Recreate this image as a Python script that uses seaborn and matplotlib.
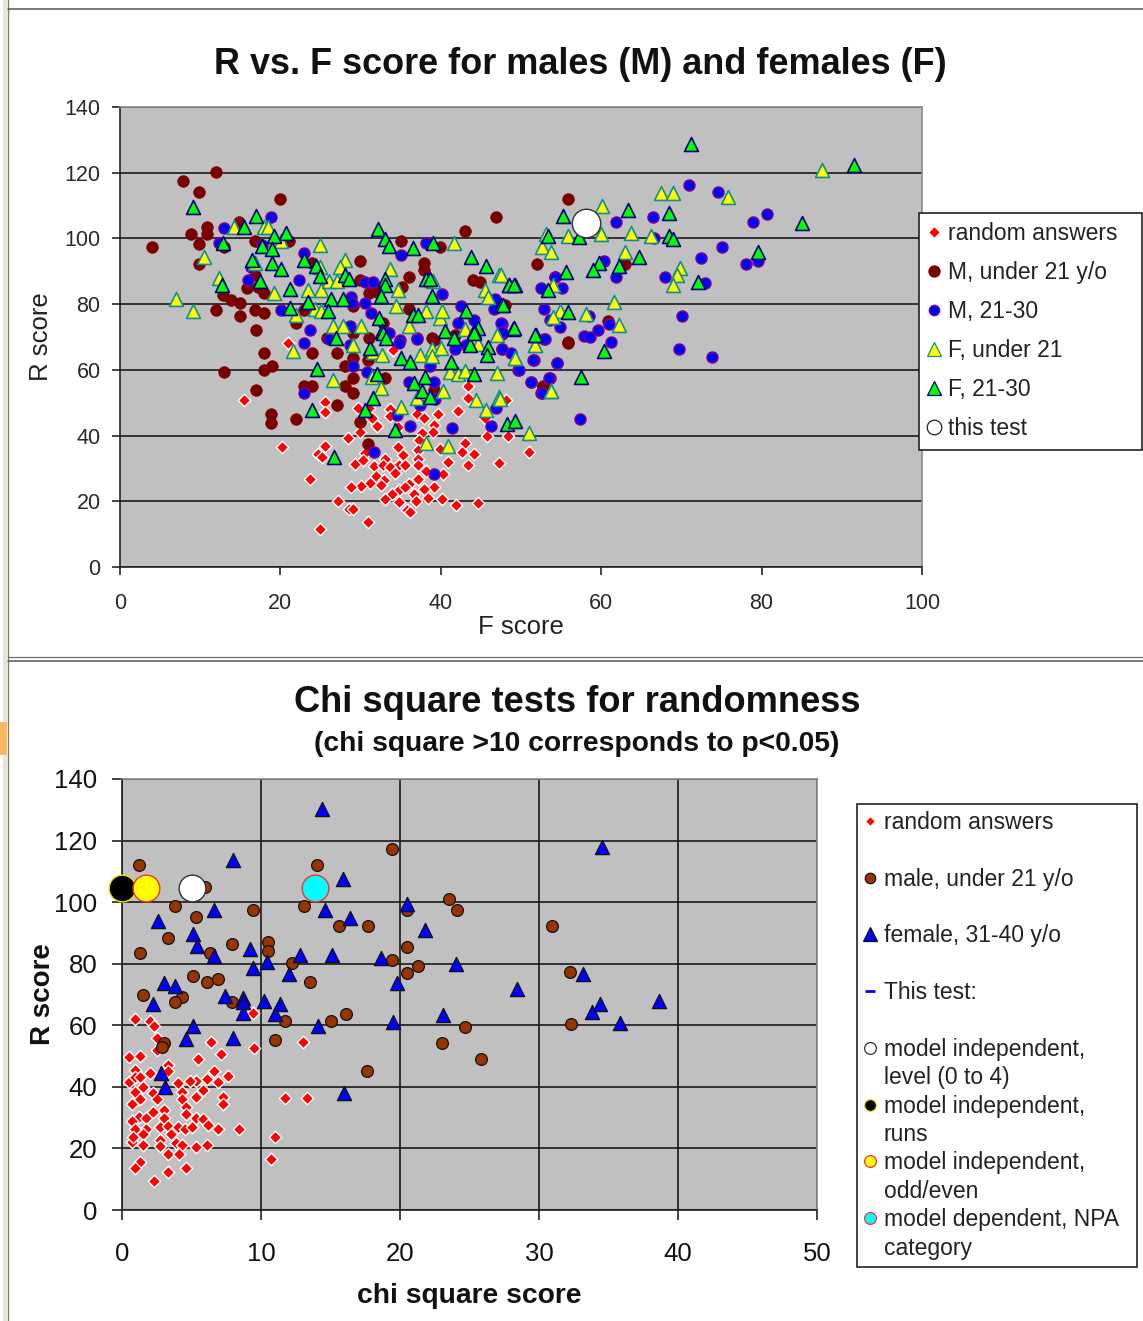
import matplotlib
matplotlib.use("Agg")
import matplotlib.pyplot as plt
import seaborn as sns
from matplotlib.lines import Line2D
from matplotlib.patches import Rectangle

W, H = 1143, 1321

# ---- top chart data (F score, R score) ----
rnd_f = [21, 15.5, 20.2, 25.5, 24.7, 25.2, 23.7, 27.2, 28.5, 29, 30.9, 24.9, 25.6, 25.6, 29.7, 31, 31.4, 32.1, 29.9, 28.4,
         33.7, 33.7, 34.7, 37, 37.9, 39.7, 42.2, 39.1, 39, 37.7, 37.3, 37.2, 37.2, 37.2, 39.9, 43, 42.6, 44.2, 40.9, 43.4,
         47.3, 51, 45.7, 48.4, 45.5, 48.1, 43.4, 43.4, 34, 30.5, 29.3, 30.3, 31.7, 33.1, 34.7, 35.3, 34.8, 35.5, 32.8, 33.7,
         34.3, 31.9, 31.2, 32.9, 30.1, 28.8, 32.6, 36, 37.2, 38.2, 40.3, 39.2, 37.9, 36.6, 34.8, 35.5, 33.9, 33, 34.8, 36.9,
         38.4, 40.2, 41.9, 44.6, 35.8, 36.2]
rnd_r = [68.2, 50.7, 36.4, 36.9, 34.4, 33.4, 26.9, 20.2, 17.8, 17.8, 13.6, 11.7, 50.3, 47.3, 48.3, 48.3, 45.4, 43, 41.2, 39.3,
         48, 45.9, 42.7, 46.5, 45.4, 46.5, 47.5, 43.2, 41.2, 40.7, 38.8, 35.6, 33, 31, 36, 37.6, 34.9, 34.4, 32, 31.1,
         31.6, 34.9, 40, 40, 45.5, 50.7, 55, 51.5, 66, 34.8, 31.5, 32.5, 30.7, 33, 36.4, 34, 31.1, 31.1, 31, 30.5,
         28.7, 27.8, 25.7, 26.5, 24.6, 24.4, 25, 25.4, 26.9, 29.2, 28.2, 24.4, 23.6, 22.2, 23.4, 24.2, 22.2, 20.6, 19.7, 20.1,
         21.1, 20.7, 18.9, 19.4, 17.3, 16.8]

m_young_f = [12, 7.9, 9.85, 20, 46.9, 10.8, 14.9, 8.9, 10.9, 4, 9.85, 16.8, 43, 35, 39.9, 21.1, 13, 9.85, 29.9, 37.9,
             37.9, 36, 44, 44.9, 16.8, 12, 15, 16.8, 17.9, 16.9, 12.9, 13.9, 15, 15.8, 17.9, 17.2, 21.9, 22.9, 23.9, 29.9,
             31, 32, 35.1, 29.1, 32.8, 36, 47.8, 31, 29, 38.9, 41.8, 13, 17.9, 17.9, 18.9, 16.9, 18.8, 18.8, 21.9, 23.9,
             27, 22.9, 23.9, 27, 29.9, 30.9, 29, 28.1, 29, 28.1, 29, 30.9, 33, 25.8, 39.1, 39.1, 55.8, 52.8, 55.9,
             52, 63, 48, 60.9, 55.9, 52.8, 54.3]
m_young_r = [120.2, 117.4, 114, 112.1, 106.4, 103.4, 105.1, 101.2, 101.2, 97.4, 98.3, 99.3, 102.2, 99.3, 97.4, 99.3, 97.4, 92.1, 93.2, 92.6,
             90.4, 88.4, 87.4, 86.6, 88.9, 78.3, 76.4, 78.3, 77.4, 72.2, 82.8, 81.3, 80.3, 84.8, 83.3, 85.3, 74.2, 78.3, 92.4, 87.4,
             83.3, 83.8, 85.3, 79.3, 74.2, 78.4, 79.3, 69.6, 71.1, 69.6, 70.6, 59.2, 65, 60.1, 61.2, 53.8, 46.7, 43.7, 45, 65,
             65, 55, 55, 49.3, 44.2, 37.3, 57.4, 55, 53.1, 61.2, 63.5, 63, 57.4, 69.6, 69, 53.8, 68.3, 55, 112.1,
             92.1, 92.1, 79.7, 74.8, 68.4, 54.9, 88.3]

m_mid_f = [70.9, 74.6, 80.7, 78.9, 61.9, 66.4, 66.6, 75, 72.5, 60.4, 78.1, 79.5, 61.9, 68, 73, 54.3, 52.5, 55.1, 52.9, 58.5,
           53.6, 54.9, 61, 59.6, 57.8, 58.6, 52.9, 61.2, 70.1, 69.7, 73.8, 47.6, 47.6, 47.6, 48.8, 51.6, 54.5, 49.6, 53.6, 51.2,
           52.5, 57.3, 13, 18.8, 12.3, 17.7, 22.9, 35, 38.2, 16.3, 15.9, 22.3, 30.5, 31.5, 28.8, 28.9, 30.5, 20.1, 31.3, 40.2,
           42.5, 46.8, 46.6, 42.2, 44.1, 47.5, 23.7, 28.7, 33.5, 47.6, 34.9, 37, 22.9, 26, 28.7, 34.8, 37, 41.8, 43.2, 47.6,
           53, 29, 30.8, 38.7, 49.7, 51.5, 54.5, 36, 39.2, 51.2, 53.5, 52.6, 22.9, 39.3, 37.4, 46.9, 34.5, 36.2, 41.4, 46.3,
           31.7, 39.1]
m_mid_r = [116.4, 114, 107.3, 105, 105, 106.4, 100, 97.4, 94, 93.1, 92.1, 93.1, 88.3, 88.3, 86.3, 88.3, 85, 85, 78.4, 76.4,
           75.1, 73.1, 73.9, 72.1, 70.3, 70, 69.3, 68.4, 76.4, 66.4, 64, 74.1, 71, 66.4, 65.2, 63, 62.2, 60.1, 57.4, 56.4,
           53, 45, 103.1, 106.4, 98.5, 98, 95.5, 95, 98.5, 91.4, 87.4, 87.4, 86.6, 86.6, 82.3, 80.3, 80.3, 78.3, 77.4, 83.1,
           79.3, 81.5, 78.4, 74.2, 75.2, 74.2, 72.2, 73.2, 71.1, 71.6, 69, 69.8, 68.2, 69.3, 67.5, 68.2, 69.3, 66.2, 67.5, 66.5,
           69.3, 61.2, 59.4, 61.2, 60.1, 63, 62.2, 56.4, 56.4, 56.4, 57.4, 53.1, 53.1, 51.1, 49.3, 48.3, 46.2, 43, 42.2, 43,
           35, 28.3]

f_young_f = [7, 9.1, 10.5, 14.2, 17.9, 18.5, 12.3, 16.8, 20.1, 24.9, 24.9, 28.1, 27.4, 19.2, 21.9, 23.5, 25.1, 26.1, 27.1, 24.3,
             25, 26.6, 27.8, 30, 33.7, 34.7, 34.4, 39, 38.2, 39.9, 40.1, 36, 41.7, 47.3, 45.5, 45.9, 43, 47, 21.6, 29,
             26.5, 31.6, 32.7, 31.4, 32.5, 35, 37, 37.4, 38.9, 38.9, 40, 44.7, 49.3, 51.7, 41.1, 42.1, 43, 47, 40.3, 44.4,
             47.2, 45.6, 53.7, 38.2, 40.9, 51, 87.5, 75.8, 67.4, 69, 60.1, 53.1, 55.9, 60, 63.7, 66.2, 52.6, 53.8, 63, 69.8,
             69.4, 69, 54, 47.5, 61.6, 54.9, 54, 58.1, 62.2, 51.7, 49.3, 53.8, 47.4]
f_young_r = [81.6, 77.8, 94.5, 103.6, 103.6, 103.6, 87.9, 92.4, 99.3, 98, 91.4, 93.5, 91.4, 83.5, 76.7, 84.3, 84.3, 86.9, 86.9, 78.4,
             77.8, 73.4, 73.4, 73.4, 90.6, 84.3, 79.5, 86.9, 77.8, 75.7, 77.8, 73.2, 98.5, 88.9, 84.3, 82.3, 72.5, 70.6, 65.7, 67.7,
             56.9, 65.5, 64.5, 57.9, 54.4, 48.8, 51.3, 64.5, 66.5, 64.2, 66.8, 67.8, 63.5, 67.5, 59.4, 58.6, 59.7, 58.9, 53.6, 50.8,
             51.8, 47.8, 53.5, 37.6, 36.9, 40.7, 120.8, 112.7, 113.7, 113.7, 109.8, 101.5, 100.7, 101.5, 101.7, 100.7, 97.5, 96, 96, 90.9,
             88.8, 85.8, 85.8, 88.8, 80.7, 78, 76, 77, 73.6, 67.5, 63.5, 53.5, 51]

f_mid_f = [9.1, 16.9, 15.4, 12.9, 19.2, 20.7, 17.7, 18.9, 16.4, 19, 20.1, 12.7, 17.5, 21.2, 23, 24.5, 24.9, 28.1, 28.6, 23.4,
           26.3, 27.8, 21.2, 25.9, 32.2, 33.1, 33.5, 36.5, 39, 43.8, 45.6, 33.1, 33.1, 32.5, 38.2, 38.7, 38.9, 48.5, 49.2, 36.5,
           37.1, 43.2, 47.5, 32.3, 32.7, 40.5, 44.6, 44.1, 49, 26.9, 31.2, 32.8, 33.2, 41.7, 43.6, 44.1, 45.9, 45.7, 35, 36.1,
           41.3, 24.6, 32.1, 38, 44.1, 36.6, 37.7, 38.6, 31.6, 30.5, 24, 34.3, 48.3, 49.2, 26.7, 51.9, 71.2, 91.5, 85, 55.2,
           63.4, 68.5, 53.4, 57.2, 68.4, 69, 79.5, 64.7, 59.7, 59, 62.2, 55.6, 72.1, 53.4, 48.5, 49.1, 55.9, 49.1, 51.8, 60.4,
           57.5, 47.7]
f_mid_r = [109.7, 106.8, 103.6, 98.7, 100.6, 101.8, 97.8, 96.8, 93.5, 92.6, 90.6, 85.9, 86.9, 84.5, 93.5, 91.7, 88.7, 88.9, 87.7, 80.6,
           81.6, 81.6, 78.8, 77.8, 102.8, 99.8, 97.7, 97, 98.7, 94.5, 91.6, 87.7, 85.9, 82.5, 87.7, 87.7, 82.5, 85.9, 85.9, 76.7,
           76.7, 77.8, 79.6, 75.7, 71.7, 71.7, 72.7, 71.7, 72.5, 69.6, 66.8, 71.3, 69.6, 69.6, 67.7, 71.1, 67, 64.5, 63.5, 62.5,
           62.5, 60.4, 58.6, 57.9, 58.6, 55.9, 53.6, 51.6, 51.5, 47.8, 47.8, 41.7, 43.5, 44.5, 33.4, 70.6, 128.7, 122.5, 104.6, 106.8,
           108.8, 107.8, 100.7, 100.5, 100.7, 99.7, 95.9, 94.4, 92.4, 90.4, 91.6, 89.7, 86.8, 84.3, 85.8, 85.8, 77.7, 72.6, 70.6, 65.8,
           57.7, 79.7]

this_f = [58.1]
this_r = [104.6]

# ---- bottom chart data (chi square score, R score) ----
chi_rnd_x = [0.9, 2, 2.3, 2.5, 2.5, 6.4, 9.5, 13, 9.4, 7.1, 5.5, 0.5, 1.3, 3.3, 3.3, 0.9, 2, 6.6, 7.6, 6.1, 6.9, 5.3, 4.9, 4,
             0.5, 0.9, 1.3, 1.5, 0.9, 2.2, 4.3, 5.8, 5.3, 1.3, 2.5, 4.3, 7.3, 7.3, 0.7, 2.2, 3, 4.6, 4.6, 1.2, 1.7, 3, 0.7, 5.3,
             5.8, 6.2, 0.9, 1.7, 2.7, 3.3, 4, 4.5, 5, 6.9, 8.4, 3.5, 1.5, 11, 0.7, 2.7, 1.5, 2.7, 3.9, 4.3, 5.3, 6.1, 3.3, 4.1,
             10.7, 1.3, 0.9, 3.3, 4.6, 2.3, 11.7, 13.3, 0.8]
chi_rnd_r = [61.9, 61.4, 59.8, 55.8, 52, 54.7, 52.7, 54.7, 63.9, 50.7, 49, 49.8, 50.1, 47.1, 45.1, 45.5, 44.6, 45.1, 43.5, 42.6, 41.5, 42, 42, 41.1,
             41.5, 43.1, 43.1, 39.8, 38.4, 38.1, 38.4, 39, 36.8, 35.9, 35.9, 35.9, 36.8, 34.3, 34.3, 31.9, 32.5, 33.4, 31.2, 30.3, 29.8, 29.8, 29, 30,
             29.5, 27.6, 26.3, 26.3, 26.9, 27.3, 26.9, 26.2, 26.9, 26.3, 26.3, 24.6, 24.7, 23.8, 22.2, 22.7, 21.1, 20.9, 21.9, 21.1, 20.6, 21.1, 18.2, 18.2,
             16.6, 15.7, 13.5, 12.5, 13.5, 9.4, 36.5, 36.5, 23.8]

chi_male_x = [1.2, 14, 19.4, 6, 3.8, 9.4, 13.1, 5.3, 20.5, 23.5, 15.6, 17.7, 3.3, 7.9, 10.5, 10.5, 1.3, 6.3, 20.5, 12.2, 19.4, 21.3,
              20.5, 13.5, 5.1, 6.1, 6.9, 1.5, 4.3, 3.8, 7.9, 16.1, 11.7, 15, 3, 2.9, 11, 30.9, 32.2, 32.3, 24.1, 23, 24.7, 25.8, 17.6]
chi_male_r = [112, 112, 117.1, 105, 98.8, 97.4, 98.8, 95.3, 97.4, 101, 92.2, 92.2, 88.2, 86.3, 87.2, 84.2, 83.4, 83.4, 85.3, 80.1, 81.2, 79.3,
              77.1, 74, 76, 74, 75, 70, 69.3, 67.5, 67.5, 63.6, 61.4, 61.4, 54.3, 53, 55.2, 92.2, 77.3, 60.4, 97.4, 54.2, 59.4, 49, 45.1]

chi_female_x = [14.4, 8, 15.9, 20.5, 2.6, 6.6, 14.6, 16.4, 5.1, 5.4, 6.6, 9.2, 12.8, 15.1, 18.6, 21.8, 10.4, 9.4, 12, 19.8, 3, 3.8,
                2.2, 7.4, 8.7, 8.7, 10.2, 11.4, 8.7, 11, 23.1, 19.5, 5.1, 4.6, 8, 14.1, 2.8, 3.1, 16, 34.5, 28.4, 33.2, 34.4, 33.8,
                35.8, 38.6, 24]
chi_female_r = [130.4, 113.7, 107.5, 99.4, 93.9, 97.4, 97.4, 95, 89.6, 85.8, 82.6, 84.8, 82.8, 82.8, 81.7, 91, 80.4, 78.5, 76.6, 73.6, 73.6, 72.6,
                67, 69.5, 68.8, 67.6, 68, 67, 63.9, 63.7, 63.4, 61, 59.8, 55.4, 55.8, 59.8, 44.6, 39.8, 38, 117.9, 71.8, 76.6, 66.9, 64.3,
                60.7, 67.9, 79.9]

test_level = [5, 104.5]
test_runs = [0, 104.5]
test_odd = [1.75, 104.5]
test_npa = [13.9, 104.5]

x_ticks_top = [0, 20, 40, 60, 80, 100]
x_ticks_bottom = [0, 10, 20, 30, 40, 50]
y_ticks = [0, 20, 40, 60, 80, 100, 120, 140]

labels_top = ["random answers", "M, under 21 y/o", "M, 21-30", "F, under 21", "F, 21-30", "this test"]

sns.set_theme(style="white")
plt.rcParams["font.family"] = ["Liberation Sans", "DejaVu Sans"]


def px_axes(left, top, right, bottom):
    return [left / W, 1 - bottom / H, (right - left) / W, (bottom - top) / H]


def style_axes(ax, tick_size, tick_len, color):
    ax.set_facecolor("#C0C0C0")
    ax.set_axisbelow(True)
    ax.set_ylim(0, 140)
    ax.set_yticks(y_ticks)
    ax.tick_params(axis="both", length=tick_len, width=1.1, color="#111111",
                   labelsize=tick_size, labelcolor=color, left=True, bottom=True)
    ax.spines["left"].set_color("#222222")
    ax.spines["bottom"].set_color("#222222")
    ax.spines["top"].set_color("#8a8a8a")
    ax.spines["right"].set_color("#8a8a8a")
    for s in ax.spines.values():
        s.set_linewidth(1.2)


def marker_line(marker, face, edge, size, lw=0.9):
    return Line2D([], [], linestyle="none", marker=marker, markerfacecolor=face,
                  markeredgecolor=edge, markersize=size, markeredgewidth=lw)


fig = plt.figure(figsize=(W / 100, H / 100), dpi=100, facecolor="white")

# ---- top chart ----
ax1 = fig.add_axes(px_axes(120, 107, 922, 567))
style_axes(ax1, 15.5, 5.5, "#2a2a2a")
ax1.tick_params(axis="x", pad=13)
ax1.tick_params(axis="y", pad=8.5)
ax1.set_xlim(0, 100)
ax1.set_xticks(x_ticks_top)
ax1.yaxis.grid(True, color="#1a1a1a", linewidth=1.2)
ax1.xaxis.grid(False)

sns.scatterplot(x=rnd_f, y=rnd_r, ax=ax1, marker="D", color="#FF0000", edgecolor="white", s=40, linewidth=1.0, legend=False)
sns.scatterplot(x=m_young_f, y=m_young_r, ax=ax1, marker="o", color="#7A0000", edgecolor="#7A0000", s=70, linewidth=0.5, legend=False)
sns.scatterplot(x=m_mid_f, y=m_mid_r, ax=ax1, marker="o", color="#0000FF", edgecolor="#7A0090", s=62, linewidth=1.1, legend=False)
sns.scatterplot(x=f_young_f, y=f_young_r, ax=ax1, marker="^", color="#FFFF00", edgecolor="#108F90", s=100, linewidth=1.2, legend=False)
sns.scatterplot(x=f_mid_f, y=f_mid_r, ax=ax1, marker="^", color="#00FF00", edgecolor="#000080", s=100, linewidth=1.2, legend=False)
sns.scatterplot(x=this_f, y=this_r, ax=ax1, marker="o", color="white", edgecolor="#333333", s=420, linewidth=1.0, legend=False)

ax1.set_title("R vs. F score for males (M) and females (F)", fontsize=25.9, fontweight="bold",
              color="#111111", x=(580 - 120) / 802, y=1, pad=24)
ax1.set_xlabel("F score", fontsize=18.5, color="#222222", labelpad=1)
ax1.set_ylabel("R score", fontsize=18.5, color="#222222", labelpad=8)

handles_top = [marker_line("D", "#FF0000", "white", 6),
               marker_line("o", "#7A0000", "#7A0000", 8),
               marker_line("o", "#0000FF", "#7A0090", 7.5),
               marker_line("^", "#FFFF00", "#108F90", 10),
               marker_line("^", "#00FF00", "#000080", 10),
               marker_line("o", "white", "#222222", 10.5)]
leg1 = fig.legend(handles_top, labels_top, loc="upper left", mode="expand",
                  bbox_to_anchor=(919 / W, 1 - 450 / H, 223 / W, 237 / H), bbox_transform=fig.transFigure,
                  fontsize=16.5, labelspacing=0.70, handlelength=0.5, handletextpad=0.36,
                  borderpad=0.4, borderaxespad=0, fancybox=False, framealpha=1,
                  edgecolor="#222222", facecolor="white", labelcolor="#222222")
leg1.get_frame().set_linewidth(1.2)

# ---- bottom chart ----
ax2 = fig.add_axes(px_axes(122, 779, 817, 1210))
style_axes(ax2, 18.5, 7, "#111111")
ax2.tick_params(axis="x", pad=16)
ax2.tick_params(axis="y", pad=10.8)
ax2.set_xlim(0, 50)
ax2.set_xticks(x_ticks_bottom)
ax2.grid(True, color="#1a1a1a", linewidth=1.2)

sns.scatterplot(x=chi_rnd_x, y=chi_rnd_r, ax=ax2, marker="D", color="#FF0000", edgecolor="white", s=40, linewidth=1.0, legend=False)
sns.scatterplot(x=chi_male_x, y=chi_male_r, ax=ax2, marker="o", color="#993300", edgecolor="#111111", s=72, linewidth=0.9, legend=False, zorder=3)
sns.scatterplot(x=chi_female_x, y=chi_female_r, ax=ax2, marker="^", color="#0000FF", edgecolor="#111111", s=105, linewidth=0.9, legend=False, zorder=3)
sns.scatterplot(x=[test_level[0]], y=[test_level[1]], ax=ax2, marker="o", color="white", edgecolor="#333333", s=370, linewidth=1.0, legend=False, zorder=4)
sns.scatterplot(x=[test_runs[0]], y=[test_runs[1]], ax=ax2, marker="o", color="black", edgecolor="#E8E800", s=370, linewidth=1.0, legend=False, zorder=4, clip_on=False)
sns.scatterplot(x=[test_odd[0]], y=[test_odd[1]], ax=ax2, marker="o", color="#FFFF00", edgecolor="#FF3030", s=370, linewidth=1.0, legend=False, zorder=4)
sns.scatterplot(x=[test_npa[0]], y=[test_npa[1]], ax=ax2, marker="o", color="#00FFFF", edgecolor="#FF3030", s=370, linewidth=1.0, legend=False, zorder=4)

ax2.set_xlabel("chi square score", fontsize=20.3, fontweight="bold", color="#111111", labelpad=12, x=(469 - 122) / 695)
ax2.set_ylabel("R score", fontsize=20, fontweight="bold", color="#111111", labelpad=-1)

fig.text(577 / W, 1 - 703 / H, "Chi square tests for randomness", fontsize=26.1, fontweight="bold",
         color="#111111", ha="center", va="center")
fig.text(577 / W, 1 - 744 / H, "(chi square >10 corresponds to p<0.05)", fontsize=20.3, fontweight="bold",
         color="#111111", ha="center", va="center")

blank = Line2D([], [], linestyle="none")
handles_bottom = [marker_line("D", "#FF0000", "white", 5.5), blank,
                  marker_line("o", "#993300", "#111111", 7.5), blank,
                  marker_line("^", "#0000FF", "#111111", 10), blank,
                  marker_line("_", "#0000FF", "#0000FF", 7, 2), blank,
                  marker_line("o", "white", "#333333", 8.5), blank,
                  marker_line("o", "black", "#E8E800", 8.5), blank,
                  marker_line("o", "#FFFF00", "#FF3030", 8.5), blank,
                  marker_line("o", "#00FFFF", "#FF3030", 8.5), blank]
labels_bottom = ["random answers", " ", "male, under 21 y/o", " ", "female, 31-40 y/o", " ", "This test:", " ",
                 "model independent,", "level (0 to 4)", "model independent,", "runs",
                 "model independent,", "odd/even", "model dependent, NPA", "category"]
leg2 = fig.legend(handles_bottom, labels_bottom, loc="upper left", mode="expand",
                  bbox_to_anchor=(857 / W, 1 - 1267 / H, 280 / W, 463 / H), bbox_transform=fig.transFigure,
                  fontsize=16.5, labelspacing=0.235, handlelength=0.5, handletextpad=0.37,
                  borderpad=0.3, borderaxespad=0, fancybox=False, framealpha=1,
                  edgecolor="#222222", facecolor="white", labelcolor="#222222")
leg2.get_frame().set_linewidth(1.2)

# ---- screenshot edges ----
fig.add_artist(Rectangle((3 / W, 0), 4 / W, 1, transform=fig.transFigure, facecolor="#E9E5D2", edgecolor="none"))
fig.add_artist(Rectangle((0, 1 - 755 / H), 7 / W, 33 / H, transform=fig.transFigure, facecolor="#F8B860", edgecolor="none"))
fig.add_artist(Line2D([7.5 / W, 7.5 / W], [0, 1], transform=fig.transFigure, color="#7d7d70", linewidth=1))
fig.add_artist(Line2D([8 / W, 1], [1 - 9 / H, 1 - 9 / H], transform=fig.transFigure, color="#555555", linewidth=1.1))
fig.add_artist(Line2D([8 / W, 1], [1 - 657.5 / H, 1 - 657.5 / H], transform=fig.transFigure, color="#707070", linewidth=0.9))
fig.add_artist(Line2D([8 / W, 1], [1 - 660.5 / H, 1 - 660.5 / H], transform=fig.transFigure, color="#555555", linewidth=1.1))

fig.savefig("out.png", dpi=100, facecolor="white")
